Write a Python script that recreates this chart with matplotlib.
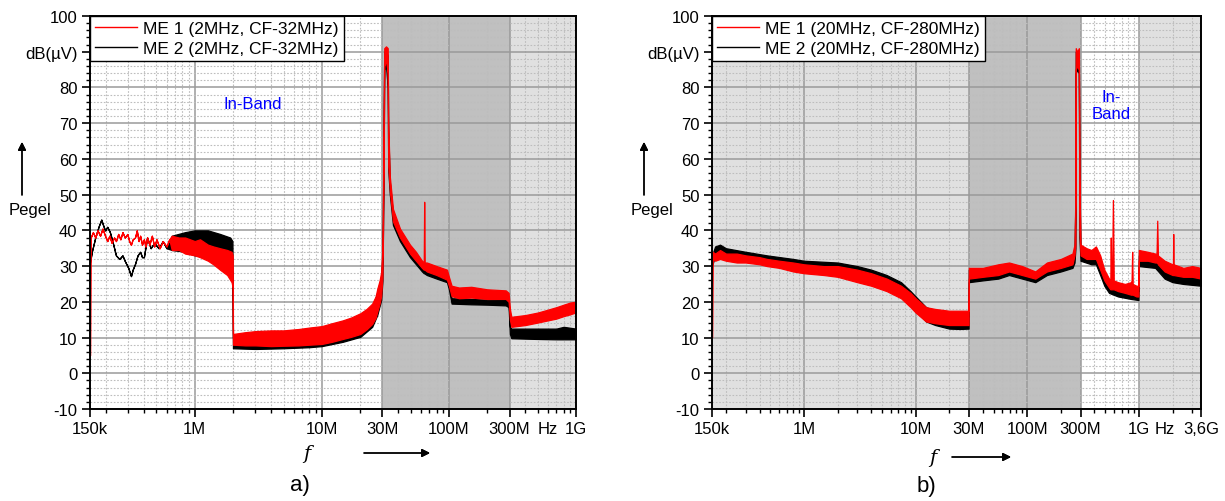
import matplotlib
matplotlib.use('Agg')
import matplotlib.pyplot as plt
from matplotlib.ticker import MultipleLocator
from matplotlib.lines import Line2D

plt.rcParams['font.family'] = ['Liberation Sans', 'DejaVu Sans']
plt.rcParams['font.size'] = 12

W, H = 1225, 502

# a) 2 MHz bandwidth, carrier 32 MHz -- frequency in MHz, level envelope in dB(uV)
a_me1_f = [0.150, 0.152, 0.158, 0.165, 0.172, 0.180, 0.188, 0.197, 0.205, 0.213,
           0.222, 0.232, 0.240, 0.250, 0.260, 0.270, 0.282, 0.295, 0.305, 0.315,
           0.325, 0.339, 0.350, 0.362, 0.372, 0.385, 0.398, 0.410, 0.422, 0.440,
           0.460, 0.480, 0.500, 0.530, 0.560, 0.600, 0.630, 0.660, 0.750, 0.840,
           1.00, 1.10, 1.27, 1.40, 1.58, 1.80, 1.95, 1.99, 2.00, 2.5,
           3.0, 4.0, 5.0, 6.6, 8.0, 10.0, 12.0, 14.6, 17.0, 20.1,
           22.5, 24.9, 26.5, 27.3, 28.5, 29.3, 30.0, 30.4, 30.8, 31.0,
           32.0, 33.0, 33.3, 34.3, 36.3, 41.2, 49.4, 55.0, 61.4, 63.4,
           63.6, 63.9, 64.2, 64.5, 67.0, 80.0, 96.5, 100, 105, 120,
           150, 200, 280, 295, 302, 310, 400, 500, 600, 700,
           800, 900, 990, 1000]
a_me1_lo = [5.0, 38.0, 39.5, 38.0, 40.0, 38.5, 40.5, 38.5, 37.0, 38.5,
            36.5, 38.0, 37.0, 39.0, 37.5, 39.5, 38.0, 39.0, 37.0, 36.0,
            37.5, 38.0, 40.0, 37.0, 38.5, 36.0, 37.5, 35.5, 38.0, 36.0,
            38.5, 35.5, 37.5, 35.0, 37.0, 35.5, 37.5, 34.5, 34.5, 33.5,
            33.0, 32.5, 31.5, 30.5, 29.0, 27.5, 25.5, 24.0, 8.0, 7.8,
            7.8, 7.6, 7.7, 7.8, 8.0, 8.2, 8.8, 9.6, 10.2, 11.0,
            12.3, 13.8, 15.5, 17.2, 19.5, 21.6, 27.0, 45.0, 70.0, 86.0,
            87.5, 84.0, 58.0, 51.0, 42.5, 38.0, 33.5, 31.5, 29.5, 29.0,
            29.0, 29.0, 29.0, 29.0, 28.5, 27.5, 26.2, 24.5, 21.6, 21.0,
            21.2, 20.8, 20.8, 20.0, 15.0, 13.0, 13.5, 14.2, 14.8, 15.3,
            16.0, 16.5, 17.0, 17.0]
a_me1_hi = [38.0, 38.0, 39.5, 38.0, 40.0, 38.5, 40.5, 38.5, 37.0, 38.5,
            36.5, 38.0, 37.0, 39.0, 37.5, 39.5, 38.0, 39.0, 37.0, 36.0,
            37.5, 38.0, 40.0, 37.0, 38.5, 36.0, 37.5, 35.5, 38.0, 36.0,
            38.5, 35.5, 37.5, 35.0, 37.0, 35.5, 37.5, 38.5, 38.0, 38.0,
            37.0, 37.5, 36.0, 35.5, 35.0, 34.5, 34.0, 33.0, 11.0, 11.5,
            11.8, 12.0, 12.0, 12.4, 12.8, 13.2, 14.0, 14.8, 15.6, 16.8,
            18.0, 19.5, 21.5, 23.6, 26.0, 28.3, 35.0, 55.0, 82.0, 91.0,
            91.5, 91.0, 70.0, 55.0, 46.0, 40.5, 36.0, 34.0, 31.5, 31.0,
            38.0, 48.0, 40.0, 31.0, 31.0, 30.0, 29.0, 27.0, 24.5, 24.0,
            24.2, 23.5, 23.2, 22.5, 18.0, 15.8, 16.3, 17.0, 17.8, 18.5,
            19.2, 19.8, 20.0, 26.0]

a_me2_f = [0.150, 0.155, 0.165, 0.175, 0.184, 0.190, 0.197, 0.205, 0.215, 0.225,
           0.240, 0.255, 0.270, 0.282, 0.300, 0.315, 0.325, 0.339, 0.355, 0.372,
           0.385, 0.398, 0.422, 0.450, 0.480, 0.520, 0.560, 0.600, 0.660, 0.840,
           1.00, 1.27, 1.58, 1.90, 1.98, 2.00, 3.0, 5.0, 8.0, 10.0,
           14.6, 20.1, 24.9, 27.3, 29.3, 30.0, 30.4, 30.8, 31.0, 32.0,
           33.0, 33.3, 34.3, 36.3, 41.2, 49.4, 61.4, 63.4, 63.9, 67.0,
           80.0, 96.5, 100, 105, 150, 200, 280, 295, 302, 310,
           500, 700, 800, 1000]
a_me2_lo = [31.0, 34.0, 38.0, 41.0, 43.0, 41.5, 40.0, 41.0, 39.5, 37.0,
            33.0, 32.0, 33.0, 31.4, 29.5, 27.2, 29.0, 30.6, 33.0, 34.0,
            32.5, 32.5, 38.0, 35.0, 36.5, 35.0, 37.0, 35.0, 34.5, 34.0,
            33.0, 32.5, 31.5, 30.5, 28.0, 7.0, 6.8, 7.0, 7.3, 7.6,
            8.8, 10.2, 13.0, 16.3, 20.5, 26.0, 44.0, 70.0, 85.0, 86.0,
            80.0, 57.0, 50.0, 41.5, 37.0, 32.5, 28.5, 28.0, 28.0, 27.5,
            26.5, 25.5, 23.5, 19.5, 19.3, 19.2, 19.0, 18.5, 11.0, 9.8,
            9.6, 9.5, 9.5, 9.5]
a_me2_hi = [31.0, 34.0, 38.0, 41.0, 43.0, 41.5, 40.0, 41.0, 39.5, 37.0,
            33.0, 32.0, 33.0, 31.4, 29.5, 27.2, 29.0, 30.6, 33.0, 34.0,
            32.5, 32.5, 38.0, 35.0, 36.5, 35.0, 37.0, 35.0, 38.5, 39.5,
            40.0, 40.0, 39.0, 38.0, 37.0, 10.0, 10.5, 10.8, 11.5, 12.0,
            13.8, 15.8, 18.6, 22.5, 27.0, 33.0, 52.0, 80.0, 90.0, 90.0,
            89.0, 68.0, 53.5, 44.5, 39.0, 34.5, 30.0, 29.5, 30.0, 29.0,
            28.0, 27.5, 25.5, 21.0, 20.8, 20.6, 20.5, 20.0, 13.0, 12.5,
            12.5, 12.5, 13.0, 12.5]

# b) 20 MHz bandwidth, carrier 280 MHz
b_me1_f = [0.150, 0.152, 0.160, 0.177, 0.200, 0.250, 0.300, 0.400, 0.466, 0.600,
           0.800, 1.0, 1.5, 2.0, 3.0, 4.0, 5.5, 7.4, 9.0, 10.0,
           12.4, 15.0, 20.0, 25.0, 29.8, 30.0, 40.0, 55.0, 68.7, 90.0,
           118, 150, 200, 254, 265, 270, 272, 280, 290, 293,
           300, 340, 375, 412, 450, 490, 540, 555, 560, 565,
           575, 585, 595, 650, 750, 850, 860, 870, 880, 950,
           990, 1000, 1200, 1400, 1440, 1460, 1480, 1700, 2000, 2020,
           2030, 2045, 2500, 3000, 3600]
b_me1_lo = [10.0, 32.0, 31.5, 32.0, 31.5, 31.0, 31.0, 30.5, 30.0, 29.5,
            28.5, 28.0, 27.5, 27.0, 25.5, 24.5, 23.0, 21.0, 18.5, 17.0,
            14.5, 14.0, 13.5, 13.5, 13.5, 26.5, 27.0, 27.5, 28.5, 27.5,
            26.5, 28.5, 29.5, 30.5, 33.0, 36.0, 85.0, 86.0, 85.0, 40.0,
            33.0, 32.0, 32.0, 32.0, 29.0, 26.0, 24.0, 23.5, 23.5, 23.5,
            23.5, 23.5, 23.5, 23.0, 22.5, 22.0, 22.0, 22.0, 22.0, 21.5,
            21.5, 31.5, 31.5, 31.0, 31.0, 31.0, 30.5, 28.5, 27.5, 27.5,
            27.5, 27.5, 27.0, 27.0, 26.5]
b_me1_hi = [34.0, 34.0, 33.5, 34.5, 33.5, 33.5, 33.0, 32.5, 32.0, 31.5,
            31.0, 30.5, 30.0, 30.0, 29.0, 28.0, 26.5, 24.5, 22.5, 21.0,
            18.5, 18.0, 17.5, 17.5, 17.5, 29.5, 29.5, 30.5, 31.0, 30.0,
            28.5, 31.0, 32.0, 33.5, 36.0, 50.0, 91.0, 90.0, 91.0, 55.0,
            36.0, 35.0, 34.5, 35.5, 33.0, 29.0, 26.5, 26.0, 38.0, 26.0,
            26.0, 48.5, 26.0, 25.5, 25.0, 25.5, 26.0, 34.0, 25.0, 24.5,
            24.5, 34.5, 34.0, 33.5, 33.5, 42.7, 33.0, 31.5, 30.5, 30.5,
            39.0, 30.5, 29.5, 30.0, 29.5]

b_me2_f = [0.150, 0.160, 0.177, 0.200, 0.300, 0.466, 0.800, 1.0, 2.0, 3.0,
           4.0, 5.5, 7.4, 9.0, 10.0, 12.4, 15.0, 20.0, 25.0, 29.8,
           30.0, 40.0, 55.0, 68.7, 90.0, 118, 150, 200, 254, 265,
           270, 272, 280, 290, 293, 300, 375, 412, 450, 490,
           540, 650, 850, 990, 1000, 1400, 1700, 2000, 2500, 3600]
b_me2_lo = [30.0, 33.0, 33.5, 32.5, 31.5, 30.5, 29.0, 28.5, 27.5, 26.5,
            25.5, 24.0, 22.0, 19.0, 17.5, 14.5, 13.5, 12.5, 12.4, 12.5,
            25.5, 26.0, 26.5, 27.5, 26.5, 25.5, 27.5, 28.5, 29.5, 31.0,
            35.0, 84.0, 85.0, 84.0, 38.0, 31.5, 30.5, 30.5, 27.5, 24.5,
            22.5, 21.5, 20.8, 20.5, 30.0, 29.5, 26.5, 25.5, 25.0, 24.5]
b_me2_hi = [33.0, 35.5, 36.0, 35.0, 34.0, 33.0, 32.0, 31.5, 31.0, 30.0,
            29.0, 27.5, 25.5, 23.0, 21.5, 18.5, 17.5, 16.5, 16.0, 16.0,
            29.0, 28.5, 29.5, 30.0, 29.0, 27.5, 30.0, 31.0, 32.5, 35.0,
            48.0, 90.0, 89.0, 90.0, 52.0, 34.5, 33.0, 34.0, 31.0, 27.5,
            25.0, 24.0, 23.5, 23.0, 33.0, 32.0, 29.5, 28.5, 27.5, 27.0]

DARK = '#c0c0c0'
LIGHT = '#e0e0e0'


def px(x, y):
    # figure pixel position measured from the top left corner
    return x / W, 1 - y / H


def setup_axes(ax, xmax, ticks, ticklabels, minor, bands):
    ax.set_xscale('log')
    ax.set_xlim(0.15, xmax)
    ax.set_ylim(-10, 100)
    for lo, hi, c in bands:
        ax.axvspan(lo, hi, color=c, lw=0, zorder=0.2)
    ax.set_axisbelow(True)
    ax.set_xticks(ticks, labels=ticklabels)
    ax.set_xticks(minor, minor=True)
    ax.set_xticklabels([], minor=True)
    ax.set_yticks(range(-10, 101, 10),
                  labels=['-10', '0', '10', '20', '30', '40', '50', '60', '70', '80',
                          'dB(\u00b5V)', '100'])
    ax.yaxis.set_minor_locator(MultipleLocator(2))
    ax.grid(which='major', color='#9a9a9a', lw=1.1, ls='-')
    ax.grid(which='minor', color='#bdbdbd', lw=0.8, ls=(0, (1.5, 1.5)))
    ax.tick_params(which='major', direction='out', length=6, width=1.2, pad=3,
                   labelsize=12)
    ax.tick_params(which='minor', direction='out', length=3, width=1.0)
    for s in ax.spines.values():
        s.set_linewidth(1.4)
        s.set_color('black')
        s.set_zorder(5)


def trace(ax, f, lo, hi, color):
    ax.fill_between(f, lo, hi, facecolor=color, edgecolor=color, lw=0.9, zorder=2)


fig = plt.figure(figsize=(W / 100, H / 100), dpi=100)
ax1 = fig.add_axes([90 / W, (H - 410) / H, 486 / W, 393 / H])
ax2 = fig.add_axes([712 / W, (H - 410) / H, 489 / W, 393 / H])

minor_a = [0.2, 0.3, 0.4, 0.5, 0.6, 0.7, 0.8, 0.9, 2, 3, 4, 5, 6, 7, 8, 9,
           20, 40, 50, 60, 70, 80, 90, 200, 400, 500, 600, 700, 800, 900]
setup_axes(ax1, 1000, [0.15, 1, 10, 30, 100, 300, 1000],
           ['150k', '1M', '10M', '30M', '100M', '300M', '1G'], minor_a,
           [(30, 300, DARK), (300, 1000, LIGHT)])
setup_axes(ax2, 3600, [0.15, 1, 10, 30, 100, 300, 1000, 3600],
           ['150k', '1M', '10M', '30M', '100M', '300M', '1G', '3,6G'],
           minor_a + [2000, 3000],
           [(0.15, 30, LIGHT), (30, 300, DARK), (1000, 3600, LIGHT)])

trace(ax1, a_me2_f, a_me2_lo, a_me2_hi, 'black')
trace(ax1, a_me1_f, a_me1_lo, a_me1_hi, 'red')
trace(ax2, b_me2_f, b_me2_lo, b_me2_hi, 'black')
trace(ax2, b_me1_f, b_me1_lo, b_me1_hi, 'red')

for ax, bw, cf in [(ax1, '2MHz', '32MHz'), (ax2, '20MHz', '280MHz')]:
    handles = [Line2D([], [], color='red', lw=1), Line2D([], [], color='black', lw=1)]
    labels = [f'ME 1 ({bw}, CF-{cf})', f'ME 2 ({bw}, CF-{cf})']
    leg = ax.legend(handles, labels, loc='upper left', fancybox=False, framealpha=1,
                    edgecolor='black', borderaxespad=0, handlelength=2.4,
                    handletextpad=0.35, borderpad=0.3, labelspacing=0.25,
                    fontsize=12.5)
    leg.get_frame().set_linewidth(1.0)
    leg.set_zorder(10)

ax1.text(2.88, 75.4, 'In-Band', color='blue', ha='center', va='center', fontsize=12)
ax2.text(565, 75, 'In-\nBand', color='blue', ha='center', va='center', fontsize=12,
         linespacing=1.15)

# "Hz" unit between the last two frequency labels
ax1.text(600, -13.3, 'Hz', ha='center', va='top', fontsize=12, clip_on=False)
ax2.text(1700, -13.3, 'Hz', ha='center', va='top', fontsize=12, clip_on=False)

arrow = dict(arrowstyle='-|>', color='black', lw=1.0, mutation_scale=12,
             shrinkA=0, shrinkB=0)
for dx, fx, x0, x1, ay, lab, lx, ly in [(0, 307, 364, 430, 454, 'a)', 300, 486),
                                         (622, 933, 952, 1011, 458, 'b)', 926, 487)]:
    fig.text(*px(30 + dx, 211), 'Pegel', ha='center', va='center', fontsize=12)
    fig.add_artist(plt.annotate('', xy=px(22 + dx, 143), xytext=px(22 + dx, 196),
                                xycoords='figure fraction', textcoords='figure fraction',
                                arrowprops=arrow))
    fig.text(*px(fx, ay), 'f', ha='center', va='center', fontsize=14,
             family='DejaVu Serif', style='italic')
    fig.add_artist(plt.annotate('', xy=px(x1, ay), xytext=px(x0, ay),
                                xycoords='figure fraction', textcoords='figure fraction',
                                arrowprops=arrow))
    fig.text(*px(lx, ly), lab, ha='center', va='center', fontsize=16)

fig.savefig('out.png', dpi=100)
